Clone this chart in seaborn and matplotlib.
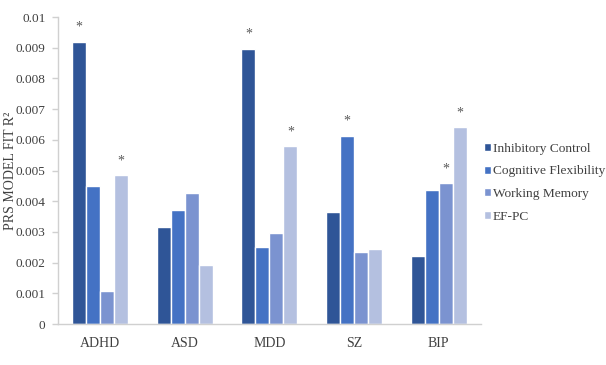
import pandas as pd
import seaborn as sns
import matplotlib.pyplot as plt

disorders = ['ADHD', 'ASD', 'MDD', 'SZ', 'BIP']
measures = ['Inhibitory Control', 'Cognitive Flexibility', 'Working Memory', 'EF-PC']

inhibitory = [0.0092, 0.00315, 0.00897, 0.00366, 0.00221]
cognitive = [0.0045, 0.00371, 0.00251, 0.00614, 0.00436]
working = [0.00107, 0.00428, 0.00295, 0.00235, 0.0046]
efpc = [0.00485, 0.00193, 0.0058, 0.00243, 0.00642]

# significance flags per measure, in disorder order
sig_inhibitory = [True, False, True, False, False]
sig_cognitive = [False, False, False, True, False]
sig_working = [False, False, False, False, True]
sig_efpc = [True, False, True, False, True]

ytick_labels = ['0', '0.001', '0.002', '0.003', '0.004', '0.005',
                '0.006', '0.007', '0.008', '0.009', '0.01']

colors = ['#2F5597', '#4472C4', '#7B93D0', '#B4C0E0']

values = [inhibitory, cognitive, working, efpc]
sigs = [sig_inhibitory, sig_cognitive, sig_working, sig_efpc]

rows = []
for m, vals in zip(measures, values):
    for d, v in zip(disorders, vals):
        rows.append({'disorder': d, 'measure': m, 'r2': v})
df = pd.DataFrame(rows)

sns.set_style('ticks')
plt.rcParams['font.family'] = ['Liberation Serif', 'DejaVu Serif']

fig = plt.figure(figsize=(6.06, 3.65), dpi=100)
ax = fig.add_axes([0.0957, 0.1123, 0.698, 0.841])

sns.barplot(data=df, x='disorder', y='r2', hue='measure', order=disorders,
            hue_order=measures, palette=colors, width=0.662, saturation=1,
            ax=ax)

ax.set_ylim(0, 0.01)
ax.set_xlim(-0.5, 4.5)
ax.set_yticks([i / 1000 for i in range(11)])
ax.set_yticklabels(ytick_labels, fontsize=9.5, color='#404040')
ax.tick_params(axis='x', labelsize=10, colors='#404040', length=0, pad=9)
ax.tick_params(axis='y', length=4, width=1, color='#D0D0D0', pad=5)
ax.set_xlabel('')
ax.set_ylabel('PRS MODEL FIT R²', fontsize=10, color='#404040')
ax.yaxis.set_label_coords(-0.097, 0.5)

for side in ['top', 'right']:
    ax.spines[side].set_visible(False)
for side in ['left', 'bottom']:
    ax.spines[side].set_color('#D0D0D0')
    ax.spines[side].set_linewidth(1)

for cont, flags in zip(ax.containers, sigs):
    for bar, flag in zip(cont, flags):
        if flag:
            ax.text(bar.get_x() + bar.get_width() / 2, bar.get_height() + 0.00025,
                    '*', ha='center', va='bottom', fontsize=10, color='#595959')

ax.legend(loc='center left', bbox_to_anchor=(1.007, 0.46), frameon=False,
          fontsize=9.6, handlelength=0.53, handleheight=0.53, handletextpad=0.12,
          labelspacing=0.8, borderaxespad=0, borderpad=0, labelcolor='#404040')

fig.savefig('out.png', dpi=100)
